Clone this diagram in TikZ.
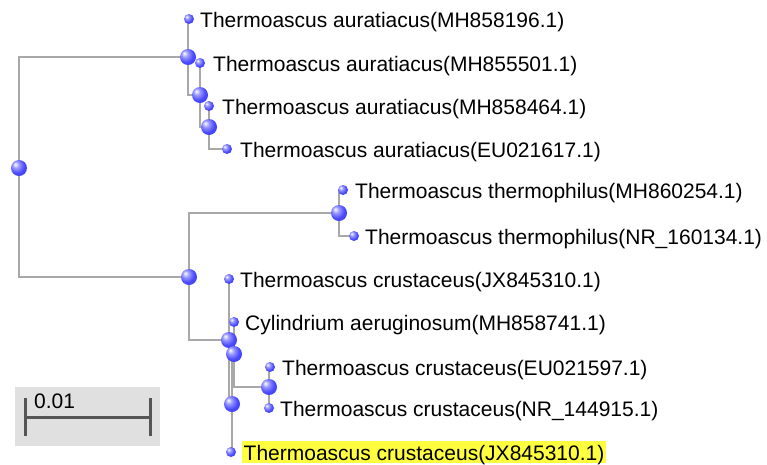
\documentclass[tikz,border=0pt]{standalone}
\usepackage{fontspec}
\setmainfont{Liberation Sans}
\usetikzlibrary{backgrounds}
\definecolor{branchgray}{RGB}{168,168,168}
\definecolor{orbblue}{RGB}{72,72,255}
\definecolor{bargray}{RGB}{85,85,85}
\definecolor{boxgray}{RGB}{224,224,224}
\definecolor{hilite}{RGB}{255,255,64}
\pgfdeclareradialshading{orb}{\pgfqpoint{-12bp}{12bp}}{color(0bp)=(white); color(10bp)=(orbblue!55!white); color(24bp)=(orbblue); color(45bp)=(orbblue!85!black); color(62bp)=(orbblue!65!black)}
\begin{document}
\begin{tikzpicture}[x=1pt,y=-1pt,
  branch/.style={draw=branchgray,line width=2pt},
  leaf/.style={circle,inner sep=0pt,minimum size=10pt,shading=orb},
  fork/.style={leaf,minimum size=16pt},
  taxon/.style={anchor=base west,inner sep=0pt,font=\fontsize{21}{24}\selectfont},
  bar/.style={draw=bargray,line width=3pt}]
\useasboundingbox (0,0) rectangle (767,464);
% internal nodes
\node[fork] (root) at (19,168) {};
\node[fork] (a1) at (188,57) {};
\node[fork] (a2) at (200,95) {};
\node[fork] (a3) at (209,127) {};
\node[fork] (b1) at (189,277) {};
\node[fork] (b2) at (339,213) {};
\node[fork] (b3) at (229,340) {};
\node[fork] (b4) at (234,354) {};
\node[fork] (b5) at (269,387) {};
\node[fork] (b6) at (232,404) {};
% leaves
\node[leaf] (l1) at (189,19) {};
\node[leaf] (l2) at (200,63) {};
\node[leaf] (l3) at (209,106) {};
\node[leaf] (l4) at (227,149) {};
\node[leaf] (l5) at (343,190) {};
\node[leaf] (l6) at (354,236) {};
\node[leaf] (l7) at (229,279) {};
\node[leaf] (l8) at (234,322) {};
\node[leaf] (l9) at (270,367) {};
\node[leaf] (l10) at (269,408) {};
\node[leaf] (l11) at (231,452) {};
% branches
\begin{scope}[on background layer]
\draw[branch] (root.center) |- (a1.center);
\draw[branch] (root.center) |- (b1.center);
\draw[branch] (a1.center) |- (l1.center);
\draw[branch] (a1.center) |- (a2.center);
\draw[branch] (a2.center) |- (l2.center);
\draw[branch] (a2.center) |- (a3.center);
\draw[branch] (a3.center) |- (l3.center);
\draw[branch] (a3.center) |- (l4.center);
\draw[branch] (b1.center) |- (b2.center);
\draw[branch] (b1.center) |- (b3.center);
\draw[branch] (b2.center) |- (l5.center);
\draw[branch] (b2.center) |- (l6.center);
\draw[branch] (b3.center) |- (l7.center);
\draw[branch] (b3.center) |- (b6.center);
\draw[branch] (b6.center) |- (b4.center);
\draw[branch] (b6.center) |- (l11.center);
\draw[branch] (b4.center) |- (l8.center);
\draw[branch] (b4.center) |- (b5.center);
\draw[branch] (b5.center) |- (l9.center);
\draw[branch] (b5.center) |- (l10.center);
\end{scope}
% taxon names
\node[taxon] (t1) at ([xshift=11pt,yshift=-8pt]l1) {Thermoascus auratiacus(MH858196.1)};
\node[taxon] (t2) at ([xshift=13pt,yshift=-8pt]l2) {Thermoascus auratiacus(MH855501.1)};
\node[taxon] (t3) at ([xshift=13pt,yshift=-8pt]l3) {Thermoascus auratiacus(MH858464.1)};
\node[taxon] (t4) at ([xshift=13pt,yshift=-8pt]l4) {Thermoascus auratiacus(EU021617.1)};
\node[taxon] (t5) at ([xshift=12pt,yshift=-8pt]l5) {Thermoascus thermophilus(MH860254.1)};
\node[taxon] (t6) at ([xshift=11pt,yshift=-8pt]l6) {Thermoascus thermophilus(NR\_160134.1)};
\node[taxon] (t7) at ([xshift=11pt,yshift=-8pt]l7) {Thermoascus crustaceus(JX845310.1)};
\node[taxon] (t8) at ([xshift=11pt,yshift=-8pt]l8) {Cylindrium aeruginosum(MH858741.1)};
\node[taxon] (t9) at ([xshift=12pt,yshift=-8pt]l9) {Thermoascus crustaceus(EU021597.1)};
\node[taxon] (t10) at ([xshift=11pt,yshift=-8pt]l10) {Thermoascus crustaceus(NR\_144915.1)};
\node[taxon,fill=hilite,inner xsep=1.5pt,text height=19pt,text depth=3pt] (t11) at ([xshift=11pt,yshift=-8pt]l11) {Thermoascus crustaceus(JX845310.1)};
% scale bar
\fill[boxgray] (15,387) rectangle (160,446);
\coordinate (sbl) at (25,417);
\coordinate (sbr) at (150,417);
\draw[bar] (sbl) -- (sbr);
\draw[bar] ([yshift=19pt]sbl) -- ([yshift=-19pt]sbl);
\draw[bar] ([yshift=19pt]sbr) -- ([yshift=-19pt]sbr);
\node[taxon] (sblab) at (34,408) {0.01};
\end{tikzpicture}
\end{document}
